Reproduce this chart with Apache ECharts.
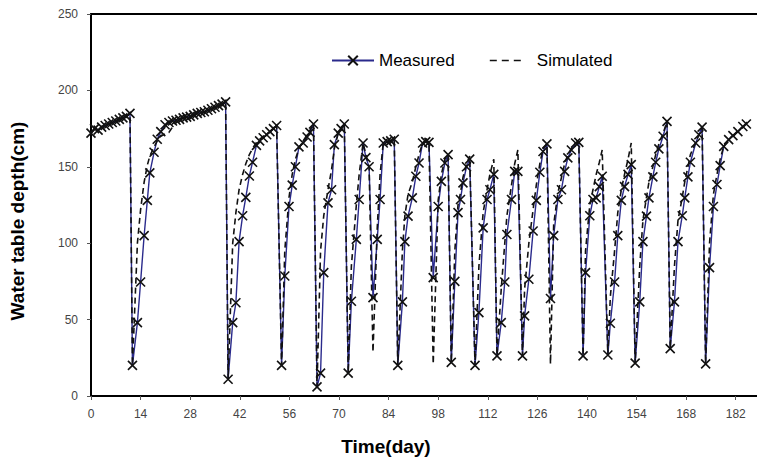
<!DOCTYPE html>
<html><head><meta charset="utf-8">
<script src="https://cdn.jsdelivr.net/npm/echarts@6/dist/echarts.min.js"></script>
<style>html,body{margin:0;padding:0;background:#fff}#c{width:757px;height:461px}</style>
</head><body><div id="c"></div>
<script>
const seriesNames = ['Measured', 'Simulated'];
const xTicks = [0, 14, 28, 42, 56, 70, 84, 98, 112, 126, 140, 154, 168, 182];
const xMax = 188;
const yTicks = [0, 50, 100, 150, 200, 250];

const days = [
  0,1,2,3,4,5,6,7,8,9,10,11,
  11.7,13.1,14.0,15.0,15.9,16.6,17.8,18.7,19.7,20.9,
  22,23,24,25,26,27,28,29,30,31,32,33,34,35,36,37,38,
  38.7,40.0,40.9,41.8,42.8,43.7,44.7,45.6,46.7,47.6,48.6,49.6,50.5,51.5,52.4,
  53.8,54.7,55.9,56.8,57.7,58.7,59.9,61.0,61.8,62.8,
  63.8,64.8,65.7,66.9,67.9,68.7,69.8,70.6,71.5,
  72.6,73.5,74.9,75.7,76.8,77.6,78.5,
  79.6,80.8,81.6,82.5,83.6,84.6,85.6,
  86.6,87.9,88.6,89.5,90.7,91.7,92.6,93.6,94.5,95.4,
  96.6,98.0,98.9,99.9,100.8,
  101.7,102.7,103.6,104.3,105.0,106.0,106.9,
  108.4,109.5,110.7,111.8,112.6,113.7,
  114.6,115.8,116.8,117.4,118.7,119.6,120.5,
  121.8,122.4,123.6,124.8,125.7,126.7,127.6,128.7,
  129.7,130.6,131.8,132.8,133.7,134.6,135.6,136.8,137.7,
  138.9,139.6,140.8,141.7,142.6,143.5,144.3,
  145.9,146.6,147.8,148.7,149.7,150.6,151.6,152.5,
  153.6,154.9,155.8,156.8,157.5,158.6,159.4,160.3,161.5,162.6,
  163.5,164.7,165.7,166.9,167.6,168.5,169.2,170.7,171.6,172.5,
  173.5,174.6,175.7,176.7,177.6,178.6,180.0,181.2,182.6,184.0,185.0
];
const measured = [
  172,175,174,176,177,178,179,180,181,182,183,185,
  20,48,74.6,105,128,146,159.5,168,173,177.5,
  179,180,180.5,181,182,182.5,183,184,185,185.5,186,187,188,189,190,191,192.5,
  11,48,61,101,118,130,144,153,164,167,169,171,173,175,177,
  20,78.5,124,138,150,163,165.6,169.5,172.5,178,
  6,15,80.7,126.4,135,164.5,172,175,178,
  15,62,102.5,128.6,165.6,156,150,
  64.4,102.5,128.6,165.6,166.5,167,168,
  20,61.6,101,117.7,129.7,143.8,152.5,165.6,166.5,166,
  77.5,124,140.5,152.5,158,
  22,75,120,128.6,139.5,150,155,
  20,54.6,110,128.6,135,145,
  26.3,48,74.6,105.7,128.6,147,147,
  26.3,52.4,76.4,108,128,146.4,160,165,
  63.8,105,128.6,135,147,155.8,161,165.6,166,
  26.3,80.7,118,128.6,129.7,137,143.8,
  26.8,47.6,74.6,105,128,137,145,151.4,
  21.5,61.6,101,117.7,129.7,143.4,153,161.7,170,179.7,
  31,61.6,101,118,129.7,143.4,153,165.6,171,176,
  21,84,124,138.4,150.8,163.4,167.8,170.4,173,176.4,178
];
const simulated = [
  172,175,174,176,177,178,179,180,181,182,183,185,
  20,100,122,140,151,157,163,167,170,171.5,
  172.5,176,180.5,181,182,182.5,183,184,185,185.5,186,187,188,189,190,191,192.5,
  11,100,120,135,145,152,158,162,166,168,170,171.5,173,175,177,
  20,95,130,145,155,162,167,171,174,178,
  6,95,118,135,148,162,172,175,178,
  15,85,125,145,165.6,158,150,
  28.7,110,145,165.6,166.5,167,168,
  20,95,118,132,140,150,158,165.6,166.5,166,
  21,128,145,155,158,
  22,95,125,133,143,152,157,
  20,85,120,135,145,155,
  26.3,70,100,118,138,152,161,
  26.3,70,100,122,138,152,162,165,
  21,112,133,143,152,158,162,165.6,166,
  26.3,95,125,135,145,153,161,
  26.8,65,95,120,135,145,155,165.6,
  21.5,85,115,130,140,150,158,165,172,179.7,
  31,85,115,130,140,150,158,166,171,176,
  21,100,132,145,155,163.4,167.8,170.4,173,176.4,178
];

const chart = echarts.init(document.getElementById('c'), null, {renderer: 'svg'});
const font = 'Liberation Sans, Arial, sans-serif';
const xMark = 'path://M0,0L10,10M10,0L0,10';
const pairs = (ys) => days.map((d, i) => [d, ys[i]]);

chart.setOption({
  animation: false,
  backgroundColor: '#fff',
  grid: {left: 91, right: 0, top: 14, bottom: 64},
  legend: [
    {data: [seriesNames[0]], left: 326, top: 47, itemWidth: 42, itemHeight: 12, itemGap: 0,
     textStyle: {fontFamily: font, fontSize: 17, color: '#000'}},
    {data: [seriesNames[1]], left: 484, top: 47, itemWidth: 34, itemHeight: 12, itemGap: 0,
     itemStyle: {color: 'transparent', borderColor: 'transparent', borderWidth: 0, opacity: 0},
     lineStyle: {type: [7, 5], width: 1.6, color: '#111'},
     textStyle: {fontFamily: font, fontSize: 17, color: '#000', padding: [0, 0, 0, 8]}}
  ],
  xAxis: [{
    type: 'value', min: xTicks[0], max: xMax, interval: xTicks[1] - xTicks[0],
    name: 'Time(day)', nameLocation: 'middle', nameGap: 41,
    nameTextStyle: {fontFamily: font, fontSize: 19, fontWeight: 'bold', color: '#000', padding: [0, 76, 0, 0]},
    axisLine: {show: true, onZero: false, lineStyle: {color: '#000', width: 2}},
    axisTick: {show: true, inside: false, length: 4, lineStyle: {color: '#555', width: 1}},
    axisLabel: {show: true, showMaxLabel: false, margin: 12, fontFamily: font, fontSize: 12, color: '#444',
      formatter: (v) => xTicks.includes(v) ? String(v) : ''},
    splitLine: {show: false}
  }, {
    type: 'value', position: 'top', min: xTicks[0], max: xMax,
    axisLine: {show: true, onZero: false, lineStyle: {color: '#000', width: 2}},
    axisTick: {show: false}, axisLabel: {show: false}, splitLine: {show: false}
  }],
  yAxis: {
    type: 'value', min: yTicks[0], max: yTicks[yTicks.length - 1], interval: yTicks[1] - yTicks[0],
    name: 'Water table depth(cm)', nameLocation: 'middle', nameGap: 64,
    nameTextStyle: {fontFamily: font, fontSize: 19, fontWeight: 'bold', color: '#000', padding: [0, 32, 0, 0]},
    axisLine: {show: true, onZero: false, lineStyle: {color: '#000', width: 2}},
    axisTick: {show: true, inside: false, length: 4, lineStyle: {color: '#555', width: 1}},
    axisLabel: {margin: 13, fontFamily: font, fontSize: 12, color: '#444'},
    splitLine: {show: false}
  },
  series: [{
    name: seriesNames[0], type: 'line', data: pairs(measured), z: 2,
    symbol: xMark, symbolSize: 9, showSymbol: true,
    lineStyle: {color: '#2a2a8c', width: 1.4},
    itemStyle: {color: '#2a2a8c', borderColor: '#111', borderWidth: 1.6}
  }, {
    name: seriesNames[1], type: 'line', data: pairs(simulated), z: 3,
    symbol: 'none', showSymbol: false,
    lineStyle: {color: '#111', width: 1.6, type: [6, 4]},
    itemStyle: {color: '#111'}
  }]
});
</script></body></html>
